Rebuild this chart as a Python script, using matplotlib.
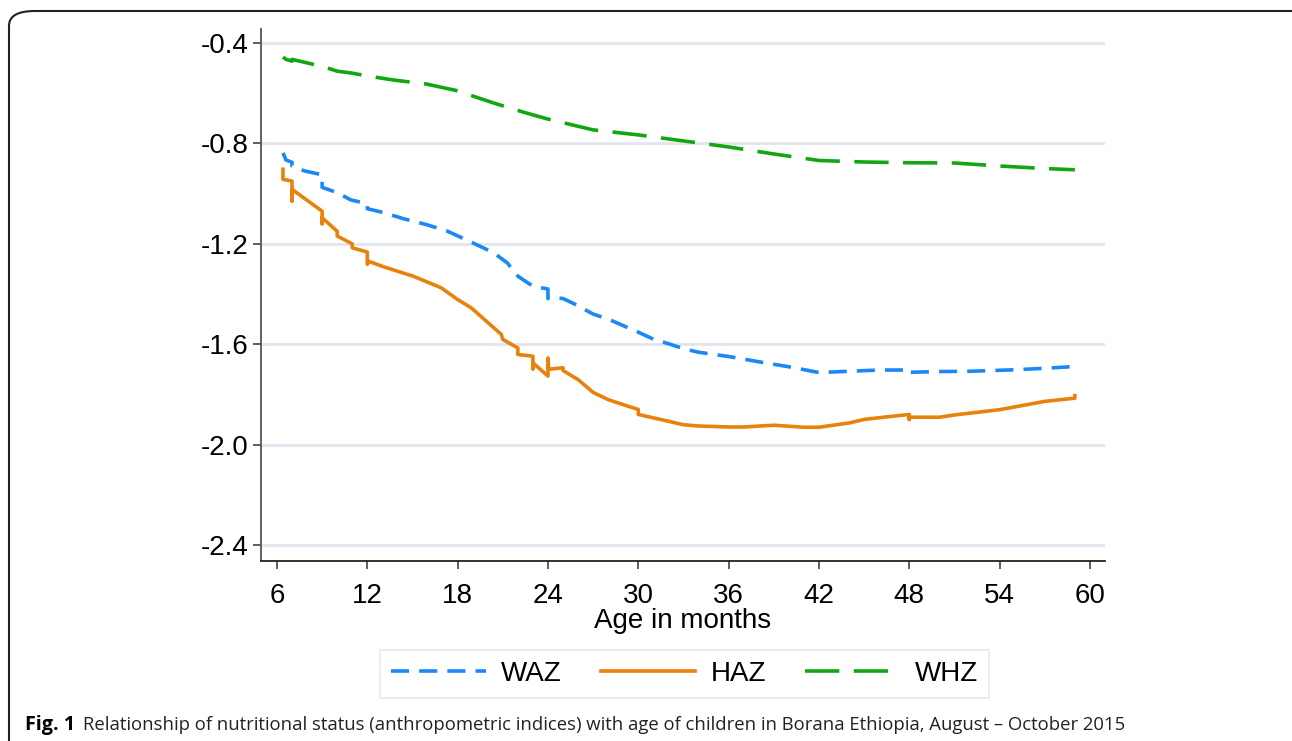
import numpy as np
import matplotlib
matplotlib.use("Agg")
import matplotlib.pyplot as plt
from matplotlib.patches import FancyBboxPatch

# Datos (edad en meses, z-score medio)
waz_x = [6.4, 6.6, 7, 7, 7.8, 9, 9, 10, 10.9, 12, 12, 13.1, 14.4, 15.9, 17.3, 19, 20.4,
         21.3, 22, 23, 24, 24, 24.4, 25, 25.7, 27, 28, 29, 30, 31, 32, 33, 34, 36, 38,
         40, 42, 44, 46, 48, 48, 50, 52, 55, 57, 59]
waz_y = [-0.838, -0.866, -0.875, -0.89, -0.909, -0.925, -0.975, -0.996, -1.025, -1.04,
         -1.06, -1.076, -1.1, -1.123, -1.149, -1.196, -1.236, -1.276, -1.329, -1.369,
         -1.38, -1.418, -1.415, -1.418, -1.438, -1.48, -1.5, -1.526, -1.552, -1.58,
         -1.598, -1.618, -1.632, -1.649, -1.67, -1.69, -1.713, -1.708, -1.703, -1.703,
         -1.712, -1.709, -1.708, -1.702, -1.696, -1.689]

haz_x = [6.4, 6.4, 7, 7, 7, 9, 9, 9, 10, 10, 11, 11, 12, 12, 12.1, 13.1, 15.05, 16.9,
         18, 18.9, 20.9, 21, 22, 22, 23, 23, 23, 24, 24, 24.05, 25, 25, 26, 27, 28, 29,
         30, 30, 32, 33, 34, 36, 37, 39, 41, 42, 44, 45, 46, 48, 48, 48, 50, 51, 54, 55,
         57, 59, 59]
haz_y = [-0.903, -0.943, -0.95, -1.029, -0.983, -1.07, -1.12, -1.096, -1.15, -1.169,
         -1.2, -1.216, -1.233, -1.282, -1.27, -1.292, -1.329, -1.375, -1.422, -1.455,
         -1.561, -1.581, -1.615, -1.641, -1.648, -1.698, -1.674, -1.727, -1.655, -1.70,
         -1.694, -1.705, -1.741, -1.792, -1.821, -1.841, -1.86, -1.88, -1.907, -1.921,
         -1.926, -1.93, -1.93, -1.923, -1.931, -1.931, -1.914, -1.90, -1.893, -1.88,
         -1.9, -1.891, -1.891, -1.882, -1.861, -1.85, -1.828, -1.815, -1.805]

whz_x = [6.4, 6.6, 7, 7, 9, 10, 11, 12, 13.7, 15.9, 17.9, 20.4, 22.4, 24, 27, 30, 33, 36,
         39, 42, 45, 48, 51, 54, 57, 59]
whz_y = [-0.456, -0.465, -0.472, -0.465, -0.493, -0.512, -0.52, -0.531, -0.547, -0.563,
         -0.589, -0.639, -0.676, -0.703, -0.746, -0.766, -0.79, -0.814, -0.842, -0.868,
         -0.874, -0.877, -0.878, -0.89, -0.90, -0.905]

series_names = ["WAZ", "HAZ", "WHZ"]
x_ticks = [6, 12, 18, 24, 30, 36, 42, 48, 54, 60]
y_ticks = [-0.4, -0.8, -1.2, -1.6, -2.0, -2.4]
caption_bold = "Fig. 1"
caption = "Relationship of nutritional status (anthropometric indices) with age of children in Borana Ethiopia, August \u2013 October 2015"

azul = "#1a88f7"
naranja = "#e8820c"
verde = "#12a612"

plt.rcParams["font.family"] = ["Liberation Sans", "DejaVu Sans"]
fs = 20

fig = plt.figure(figsize=(12.92, 7.41), dpi=100)

#Marco redondeado de la figura
marco = FancyBboxPatch((9 / 1292, -0.05), 1.2, 1.05 - 11 / 741,
                       boxstyle="round,pad=0,rounding_size=0.02",
                       transform=fig.transFigure, facecolor="none",
                       edgecolor="#222222", linewidth=1.5)
fig.patches.append(marco)

ax = fig.add_axes([261 / 1292, 1 - 561 / 741, (1105 - 261) / 1292, (561 - 29) / 741])

lw = 2.6
ax.plot(waz_x, waz_y, color=azul, lw=lw, linestyle=(0, (5, 2.8)), label=series_names[0])
ax.plot(haz_x, haz_y, color=naranja, lw=lw, linestyle="-", label=series_names[1])
ax.plot(whz_x, whz_y, color=verde, lw=lw, linestyle=(0, (9.5, 4)), label=series_names[2])

ax.set_xlim(4.94, 61.0)
ax.set_ylim(-2.464, -0.344)
ax.set_xticks(x_ticks)
ax.set_yticks(y_ticks)
ax.set_yticklabels(["%.1f" % v for v in y_ticks])
ax.grid(axis="y", color="#e2e5ef", linewidth=2)
ax.set_axisbelow(True)
for lado in ["top", "right"]:
    ax.spines[lado].set_visible(False)
ax.spines["left"].set_color("#555555")
ax.spines["bottom"].set_color("#222222")
ax.spines["left"].set_linewidth(1.3)
ax.spines["bottom"].set_linewidth(1.3)
ax.tick_params(axis="both", labelsize=fs, length=6, width=1.1, color="#333333")
ax.tick_params(axis="x", pad=10)
ax.tick_params(axis="y", pad=3)
ax.set_xlabel("Age in months", fontsize=fs, labelpad=-1)

leg = fig.legend(loc="center", bbox_to_anchor=(684.5 / 1292, 1 - 674 / 741), ncol=3,
                 fontsize=fs, frameon=True, fancybox=False, edgecolor="#dfe3ee",
                 handlelength=3.4, columnspacing=1.4, handletextpad=0.55,
                 borderpad=0.4)
leg.get_frame().set_linewidth(1.2)

fuente_pie = ["Open Sans", "DejaVu Sans"]
fig.text(25 / 1292, 1 - 725 / 741, caption_bold, fontsize=14.2, fontweight="bold",
         va="center", ha="left", family=fuente_pie)
fig.text(83 / 1292, 1 - 725 / 741, caption, fontsize=13.3, va="center", ha="left",
         family=fuente_pie, color="#222222")

fig.savefig("out.png", dpi=100)
